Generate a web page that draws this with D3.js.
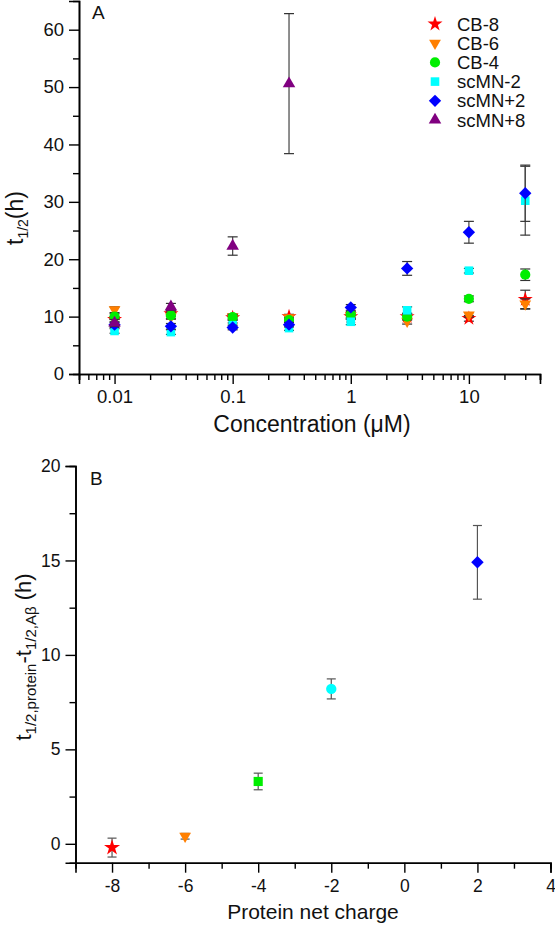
<!DOCTYPE html>
<html>
<head>
<meta charset="utf-8">
<script src="https://cdn.jsdelivr.net/npm/d3@7"></script>
<style>
  html, body { margin: 0; padding: 0; background: #fff; }
  svg { display: block; font-family: Arial, "Liberation Sans", Helvetica, sans-serif; }
</style>
</head>
<body>
<svg id="chart" width="555" height="928"></svg>
<script>
// ---------- Panel A data ----------
const concentrations = [0.01, 0.03, 0.1, 0.3, 1, 3, 10, 30];
const seriesNames = ["CB-8", "CB-6", "CB-4", "scMN-2", "scMN+2", "scMN+8"];
const cb8Vals    = [9.5, 10.5, 9.8, 10.0, 10.0, 10.0, 9.7, 13.0];
const cb8Err     = [0.5, 0.5, 0.4, 0.4, 0.5, 0.5, 0.5, 1.6];
const cb6Vals    = [11.2, 10.0, 10.0, 9.8, 10.2, 9.2, 10.3, 12.2];
const cb6Err     = [0.5, 0.4, 0.4, 0.3, 0.5, 0.5, 0.4, 0.9];
const cb4Vals    = [10.0, 10.2, 9.9, 9.4, 10.4, 10.0, 13.1, 17.3];
const cb4Err     = [0.5, 0.6, 0.5, 0.4, 0.5, 0.6, 0.5, 1.0];
const mnm2Vals   = [7.5, 7.3, 8.5, 8.0, 9.1, 11.1, 18.0, 30.2];
const mnm2Err    = [0.4, 0.4, 0.4, 0.4, 0.5, 0.6, 0.4, 6.0];
const mnp2Vals   = [8.6, 8.3, 8.1, 8.6, 11.6, 18.4, 24.7, 31.5];
const mnp2Err    = [0.5, 0.5, 0.4, 0.4, 0.5, 1.2, 1.9, 4.9];
const mnp8Vals   = [8.9, 11.7, 22.3, 50.6];
const mnp8Err    = [0.6, 0.6, 1.6, 12.2];
const yTicksA    = [0, 10, 20, 30, 40, 50, 60];
const xTicksA    = [0.01, 0.1, 1, 10];

// ---------- Panel B data ----------
const netCharge  = [-8, -6, -4, -2, 2];
const deltaT     = [-0.2, 0.4, 3.3, 8.2, 14.9];
const deltaErr   = [0.5, 0.15, 0.44, 0.53, 1.95];
const xTicksB    = [-8, -6, -4, -2, 0, 2, 4];
const yTicksB    = [0, 5, 10, 15, 20];

// ---------- styles ----------
const colors = {"CB-8":"#ff0000","CB-6":"#ff7f00","CB-4":"#00ee00","scMN-2":"#00ffff","scMN+2":"#0000ff","scMN+8":"#800080"};
const shapes = {
  "CB-8":  {type: d3.symbolStar, size: 70, rot: 0},
  "CB-6":  {type: d3.symbolTriangle, size: 60, rot: 180},
  "CB-4":  {type: d3.symbolCircle, size: 82, rot: 0},
  "scMN-2":{type: d3.symbolSquare, size: 74, rot: 0},
  "scMN+2":{type: d3.symbolSquare, size: 76, rot: 45},
  "scMN+8":{type: d3.symbolTriangle, size: 68, rot: 0}
};
const shapesB = {
  "CB-8":  {type: d3.symbolStar, size: 80, rot: 0},
  "CB-6":  {type: d3.symbolTriangle, size: 60, rot: 180},
  "CB-4":  {type: d3.symbolSquare, size: 84, rot: 0},
  "scMN-2":{type: d3.symbolCircle, size: 84, rot: 0},
  "scMN+2":{type: d3.symbolSquare, size: 78, rot: 45}
};

const svg = d3.select("#chart");

// ================= PANEL A =================
const xA = d3.scaleLog().domain([0.005, 40]).range([79, 540]);
const yA = d3.scaleLinear().domain([0, 65]).range([374, 1]);

const seriesA = [
  {name:"CB-8", v:cb8Vals, e:cb8Err},
  {name:"CB-6", v:cb6Vals, e:cb6Err},
  {name:"CB-4", v:cb4Vals, e:cb4Err},
  {name:"scMN-2", v:mnm2Vals, e:mnm2Err},
  {name:"scMN+2", v:mnp2Vals, e:mnp2Err},
  {name:"scMN+8", v:mnp8Vals, e:mnp8Err}
];

const gA = svg.append("g");

// axes A
const minorY = d3.range(0, 65, 5).filter(d => d % 10 !== 0);
const yAxisA = d3.axisLeft(yA).tickValues(yTicksA).tickSize(10).tickPadding(5).tickFormat(d3.format("d"));
gA.append("g").attr("transform", "translate(79,0)").call(yAxisA);
gA.append("g").attr("transform", "translate(79,0)")
  .call(d3.axisLeft(yA).tickValues(minorY).tickSize(6).tickFormat(""));

const minorX = [];
[0.001, 0.01, 0.1, 1, 10].forEach(dec => { for (let k = 2; k <= 9; k++) { const v = dec * k; if (v >= 0.005 && v <= 40) minorX.push(v); } });
const xAxisA = d3.axisBottom(xA).tickValues(xTicksA).tickSize(10).tickPadding(6).tickFormat(d => String(d));
gA.append("g").attr("transform", "translate(0,374)").call(xAxisA);
gA.append("g").attr("transform", "translate(0,374)")
  .call(d3.axisBottom(xA).tickValues(minorX).tickSize(6).tickFormat(""));

gA.selectAll(".domain").attr("stroke", "#000").attr("stroke-width", 1.6);
gA.selectAll(".tick line").attr("stroke", "#000").attr("stroke-width", 1.4);
gA.selectAll(".tick text").attr("font-size", 18.5).attr("fill", "#111");

// Error bars + symbols A
seriesA.forEach(s => {
  const pts = s.v.map((v, i) => ({x: concentrations[i], v, e: s.e[i]}));
  const g = gA.append("g");
  const eb = g.selectAll(".eb").data(pts).enter().append("g");
  eb.append("line").attr("x1", d => xA(d.x)).attr("x2", d => xA(d.x))
    .attr("y1", d => yA(d.v + d.e)).attr("y2", d => yA(d.v - d.e))
    .attr("stroke", "#444").attr("stroke-width", 1.2);
  [1, -1].forEach(sg => {
    eb.append("line").attr("x1", d => xA(d.x) - 5).attr("x2", d => xA(d.x) + 5)
      .attr("y1", d => yA(d.v + sg * d.e)).attr("y2", d => yA(d.v + sg * d.e))
      .attr("stroke", "#333").attr("stroke-width", 1.2);
  });
  const sh = shapes[s.name];
  g.selectAll(".pt").data(pts).enter().append("path")
    .attr("d", d3.symbol().type(sh.type).size(sh.size))
    .attr("transform", d => `translate(${xA(d.x)},${yA(d.v)}) rotate(${sh.rot})`)
    .attr("fill", colors[s.name]);
});

// Legend A
const leg = gA.append("g");
seriesNames.forEach((n, i) => {
  const y = 24 + i * 19.2;
  const sh = shapes[n];
  leg.append("path").attr("d", d3.symbol().type(sh.type).size(sh.size))
    .attr("transform", `translate(435,${y}) rotate(${sh.rot})`).attr("fill", colors[n]);
  leg.append("text").attr("x", 457).attr("y", y).attr("dy", "0.36em")
    .attr("font-size", 18.5).attr("fill", "#111").text(n);
});

// Labels A
gA.append("text").attr("x", 92).attr("y", 19).attr("font-size", 19).attr("fill", "#111").text("A");
gA.append("text").attr("x", 312).attr("y", 432).attr("text-anchor", "middle")
  .attr("font-size", 23).attr("fill", "#111").text("Concentration (\u03bcM)");
const yl = gA.append("text").attr("transform", "translate(23,218) rotate(-90)")
  .attr("text-anchor", "middle").attr("font-size", 23).attr("fill", "#111");
yl.append("tspan").text("t");
yl.append("tspan").attr("font-size", 14).attr("dy", 5).text("1/2");
yl.append("tspan").attr("dy", -5).text("(h)");

// ================= PANEL B =================
const xB = d3.scaleLinear().domain([-9, 4]).range([75.5, 550.5]);
const yB = d3.scaleLinear().domain([-1, 20]).range([862.7, 466]);
const gB = svg.append("g");

const yAxisB = d3.axisLeft(yB).tickValues(yTicksB).tickSize(10).tickPadding(5).tickFormat(d3.format("d"));
gB.append("g").attr("transform", "translate(75.5,0)").call(yAxisB);
gB.append("g").attr("transform", "translate(75.5,0)")
  .call(d3.axisLeft(yB).tickValues([2.5, 7.5, 12.5, 17.5]).tickSize(6).tickFormat(""));

gB.append("g").attr("transform", "translate(0,862.7)").call(d3.axisBottom(xB).tickValues(xTicksB).tickSize(10).tickPadding(7).tickFormat(d => d < 0 ? "-" + Math.abs(d) : String(d)));
gB.append("g").attr("transform", "translate(0,862.7)")
  .call(d3.axisBottom(xB).tickValues([-7, -5, -3, -1, 1, 3]).tickSize(6).tickFormat(""));

gB.selectAll(".domain").attr("stroke", "#000").attr("stroke-width", 1.6);
gB.selectAll(".tick line").attr("stroke", "#000").attr("stroke-width", 1.4);
gB.selectAll(".tick text").attr("font-size", 17.5).attr("fill", "#111");

const ptsB = netCharge.map((c, i) => ({c, v: deltaT[i], e: deltaErr[i], name: seriesNames[i]}));
const ebB = gB.selectAll(".ebB").data(ptsB).enter().append("g");
ebB.append("line").attr("x1", d => xB(d.c)).attr("x2", d => xB(d.c))
  .attr("y1", d => yB(d.v + d.e)).attr("y2", d => yB(d.v - d.e))
  .attr("stroke", "#555").attr("stroke-width", 1.2);
[1, -1].forEach(sg => {
  ebB.append("line").attr("x1", d => xB(d.c) - 4.5).attr("x2", d => xB(d.c) + 4.5)
    .attr("y1", d => yB(d.v + sg * d.e)).attr("y2", d => yB(d.v + sg * d.e))
    .attr("stroke", "#555").attr("stroke-width", 1.2);
});
gB.selectAll(".ptB").data(ptsB).enter().append("path")
  .attr("d", d => d3.symbol().type(shapesB[d.name].type).size(shapesB[d.name].size)())
  .attr("transform", d => `translate(${xB(d.c)},${yB(d.v)}) rotate(${shapesB[d.name].rot})`)
  .attr("fill", d => colors[d.name]);

gB.append("text").attr("x", 90).attr("y", 485).attr("font-size", 19).attr("fill", "#111").text("B");
gB.append("text").attr("x", 313).attr("y", 919).attr("text-anchor", "middle")
  .attr("font-size", 21).attr("fill", "#111").text("Protein net charge");
const ylB = gB.append("text").attr("transform", "translate(31,657) rotate(-90)")
  .attr("text-anchor", "middle").attr("font-size", 22).attr("fill", "#111");
ylB.append("tspan").text("t");
ylB.append("tspan").attr("font-size", 15).attr("dy", 5).text("1/2,protein");
ylB.append("tspan").attr("dy", -5).text("-t");
ylB.append("tspan").attr("font-size", 15).attr("dy", 5).text("1/2,A\u03b2");
ylB.append("tspan").attr("dy", -5).text(" (h)");
</script>
</body>
</html>
